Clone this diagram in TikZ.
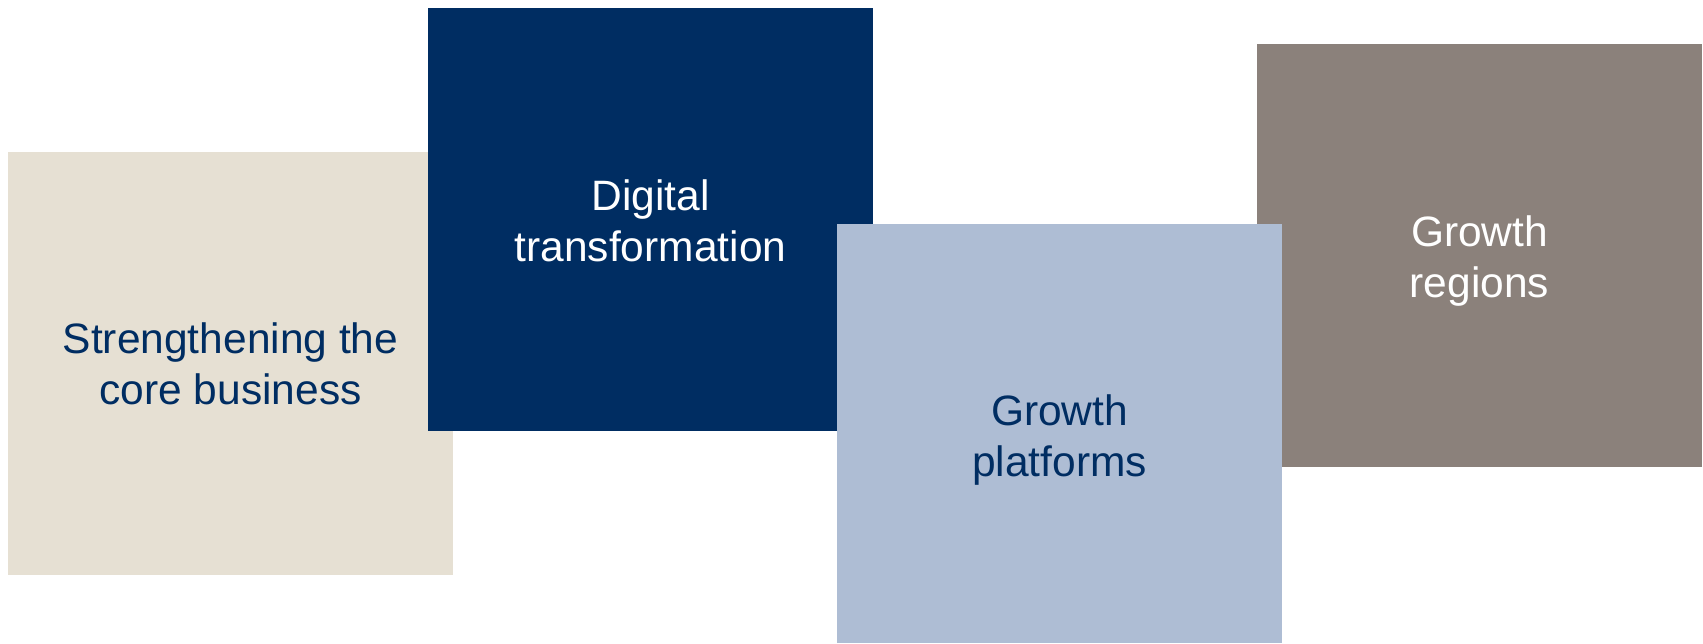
\documentclass[tikz,border=0pt]{standalone}
\usepackage{fontspec}
\setmainfont{Liberation Sans}
\definecolor{sand}{HTML}{E6E0D3}
\definecolor{navy}{HTML}{002D62}
\definecolor{steel}{HTML}{AEBDD4}
\definecolor{taupe}{HTML}{8B817B}
\begin{document}
\begin{tikzpicture}[x=1pt,y=-1pt,
  tile/.style={rectangle, inner sep=0pt, outer sep=0pt, align=center,
    font=\fontsize{42.5}{51}\selectfont},
  darktext/.style={text=navy},
  lighttext/.style={text=white}]
\useasboundingbox (0,0) rectangle (1703,643);
% tiles, back to front
\fill[sand]  (8,152)   rectangle (453,575);
\fill[navy]  (428,8)   rectangle (873,431);
\fill[taupe] (1257,44) rectangle (1702,467);
\fill[steel] (837,224) rectangle (1282,643);
% captions
\node[tile,darktext]  (core)    at (230.5,364) {Strengthening the\\core business};
\node[tile,lighttext] (digital) at (650.5,221) {Digital\\transformation};
\node[tile,lighttext] (regions) at (1479.5,261) {Growth\\regions};
\node[tile,darktext]  (platf)   at (1059.5,440) {Growth\\platforms};
\end{tikzpicture}
\end{document}
